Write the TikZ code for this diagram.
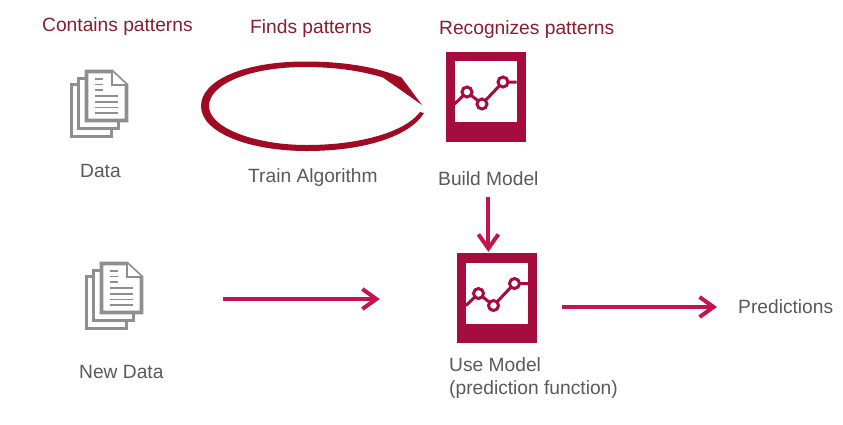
\documentclass[tikz,border=0pt]{standalone}
\usepackage{fontspec}
\setmainfont{Liberation Sans}
\usetikzlibrary{arrows.meta}
\definecolor{headred}{HTML}{8A1C2E}
\definecolor{labgray}{HTML}{595959}
\definecolor{iconred}{HTML}{A60D3F}
\definecolor{flowred}{HTML}{C4134D}
\definecolor{loopred}{HTML}{A00A22}
\definecolor{docgray}{HTML}{8F8F8F}
\tikzset{
  heading/.style={text=headred,font=\fontsize{19.2}{23}\selectfont,inner sep=0pt},
  label/.style={text=labgray,font=\fontsize{19.2}{23}\selectfont,inner sep=0pt,align=left},
  modelbox/.style={fill=iconred,draw=none,minimum width=80pt,minimum height=90pt,inner sep=0pt},
  flow/.style={draw=flowred,line width=4pt,-{Straight Barb[length=14pt,width=20pt,line width=4pt]}},
  sheet/.style={draw=docgray,line width=3.6pt,fill=white,line join=miter},
  docbox/.style={minimum width=58pt,minimum height=68pt,inner sep=0pt},
  docline/.style={draw=docgray,line width=1.8pt},
  pics/docicon/.style={code={
    \path[sheet] (-27.5,-19.5) rectangle (12.5,32.5);
    \path[sheet] (-20.5,-25.5) rectangle (19.5,24.5);
    \path[sheet] (-12.5,-32.5) -- (13,-32.5) -- (27.5,-19) -- (27.5,16.5) -- (-12.5,16.5) -- cycle;
    \path[sheet,line width=2pt] (13,-32.5) -- (13,-19) -- (27.5,-19);
    \foreach \yy in {-25,-19.5,-14} {\draw[docline] (-4,\yy) -- (4,\yy);}
    \foreach \yy in {-8,-2,3.5,9} {\draw[docline] (-4,\yy) -- (19,\yy);}
  }},
  pics/chart/.style={code={
    \fill[white] (-31,-35.5) rectangle (31,25.5);
    \draw[iconred,line width=3pt] (-31,7.5) -- (-18.5,-4.5) -- (-3.5,7.5) -- (17.5,-14.5) -- (31,-14.5);
    \foreach \cx/\cy in {-18.5/-4.5,-3.5/7.5,17.5/-14.5}
      {\draw[iconred,line width=3pt,fill=white] (\cx,\cy) circle (5);}
  }}
}
\begin{document}
\begin{tikzpicture}[x=1pt,y=-1pt]
\useasboundingbox (0,0) rectangle (843,424);
% headings
\node[heading,anchor=west] (h1) at (42,26.5) {Contains patterns};
\node[heading,anchor=west] (h2) at (250,29) {Finds patterns};
\node[heading,anchor=west] (h3) at (439,30) {Recognizes patterns};
% data
\path (99,104) pic {docicon};
\node[docbox] (data) at (99,104) {};
\node[label,anchor=west] (datal) at (80,171) {Data};
% loop
\fill[loopred] (422,105) -- (401.5,77.5)
  .. controls (375,66) and (340,61.5) .. (305,61.5)
  .. controls (245,61.5) and (201,80) .. (201,106)
  .. controls (201,133) and (250,151) .. (307,151)
  .. controls (365,151) and (410,136) .. (424,113)
  -- (420,112)
  .. controls (405,132) and (360,145) .. (307,145)
  .. controls (255,145) and (209,128) .. (209,106)
  .. controls (209,84) and (250,67) .. (305,67)
  .. controls (335,67) and (362,71) .. (383,77.5)
  -- cycle;
\node[label,anchor=west] (train) at (248,178) {Train Algorithm};
% build model
\node[modelbox] (build) at (485.5,96.5) {};
\path (485.5,96.5) pic {chart};
\node[label,anchor=west] (buildl) at (438,178.5) {Build Model};
% new data
\path (114,296) pic {docicon};
\node[docbox] (newdata) at (114,299) {};
\node[label,anchor=west] (newl) at (79,372) {New Data};
% use model
\node[modelbox] (use) at (497,298) {};
\path (497,298) pic {chart};
\node[label,anchor=north west] (usel) at (449,357) {Use Model\\(prediction function)};
% predictions
\node[label,anchor=west] (pred) at (738,307) {Predictions};
% connectors
\draw[flow,shorten <=11pt,shorten >=1pt] (buildl.south) -- (buildl.south |- use.north);
\draw[flow,shorten <=80pt,shorten >=77pt] (newdata.east) -- (newdata.east -| use.west);
\draw[flow,shorten <=25pt,shorten >=21pt] (use.east |- pred.west) -- (pred.west);
\end{tikzpicture}
\end{document}
